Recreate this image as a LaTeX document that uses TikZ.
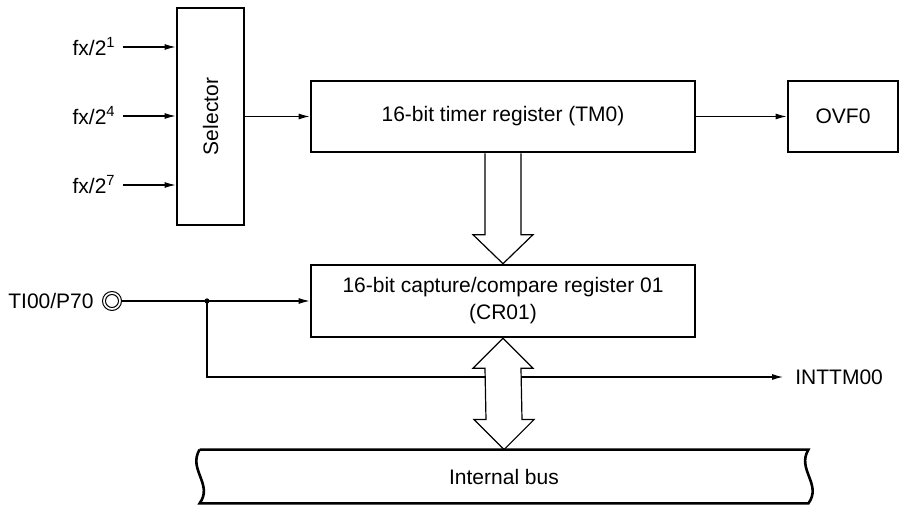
\documentclass[tikz,border=0pt]{standalone}
\usepackage{fontspec}
\setmainfont{Liberation Sans}
\usetikzlibrary{arrows.meta,calc,positioning}

\begin{document}
\begin{tikzpicture}[
    x=0.5pt, y=-0.5pt,
    every node/.style={font=\fontsize{10.5pt}{13.5pt}\selectfont},
    block/.style={rectangle, draw, line width=1.3pt, inner sep=0pt, align=center},
    sig/.style={draw, line width=0.6pt, -{Latex[length=5.5pt,width=3pt]}},
    hollow/.style={draw, line width=0.6pt, fill=white, line join=miter},
    pinring/.style={circle, draw, line width=0.5pt, inner sep=0pt},
    lbl/.style={inner sep=0pt}
]
\useasboundingbox (0,0) rectangle (901,507);

% Selector and registers
\node[block, minimum width=33.5pt, minimum height=108.5pt] (sel) at (210.5,116.5) {};
\node[rotate=90] (seltxt) at (sel) {Selector};
\node[block, minimum width=192pt, minimum height=35.5pt] (tm) at (503,116.5) {16-bit timer register (TM0)};
\node[block, minimum width=55pt, minimum height=35.5pt] (ovf) at (843,116.5) {OVF0};
\node[block, minimum width=192pt, minimum height=36pt] (cr) at (503,301) {16-bit capture/compare register 01\\(CR01)};
\node[lbl, minimum width=304pt, minimum height=26.5pt] (bus) at (504,476.5) {Internal bus};

% Clock inputs
\foreach \n/\y in {1/47, 4/116, 7/185} {
  \coordinate (in\n) at (123,\y);
  \node[lbl, anchor=east] (fx\n) at (116,\y) {fx/2\textsuperscript{\n}};
  \draw[sig] (in\n) -- (in\n -| sel.west);
}
\draw[sig] (sel.east) -- (tm.west);
\draw[sig] (tm.east) -- (ovf.west);

% Pin input and interrupt
\node[pinring, minimum size=9.5pt] (ti) at (112,301) {};
\node[pinring, minimum size=6.5pt] (tiin) at (ti) {};
\node[lbl, left=4pt of ti] (tilbl) {TI00/P70};
\coordinate (jn) at (207,301);
\coordinate (int) at (783,377);
\draw[sig] (ti.east) -- (cr.west);
\fill (jn) circle[radius=1.3pt];
\draw[sig] (jn) |- (int);
\node[lbl, anchor=west] (intlbl) at (795,377) {INTTM00};

% Data paths
\draw[hollow] ($(tm.south)+(-18,0)$) -- ($(cr.north)+(-18,-29)$) -- ($(cr.north)+(-30,-29)$)
  -- (cr.north) -- ($(cr.north)+(30,-29)$) -- ($(cr.north)+(18,-29)$) -- ($(tm.south)+(18,0)$);
\draw[hollow] (cr.south) -- ($(cr.south)+(30,30)$) -- ($(cr.south)+(18,30)$)
  -- ($(bus.north)+(18,-30)$) -- ($(bus.north)+(30,-30)$) -- (bus.north)
  -- ($(bus.north)+(-30,-30)$) -- ($(bus.north)+(-18,-30)$)
  -- ($(cr.south)+(-18,30)$) -- ($(cr.south)+(-30,30)$) -- cycle;

% Internal bus
\draw[line width=1.3pt] (bus.north west) -- (bus.north east)
  .. controls +(-12,20) and +(14,-19) .. (bus.south east) -- (bus.south west)
  .. controls +(14,-19) and +(-12,20) .. (bus.north west);
\end{tikzpicture}
\end{document}
